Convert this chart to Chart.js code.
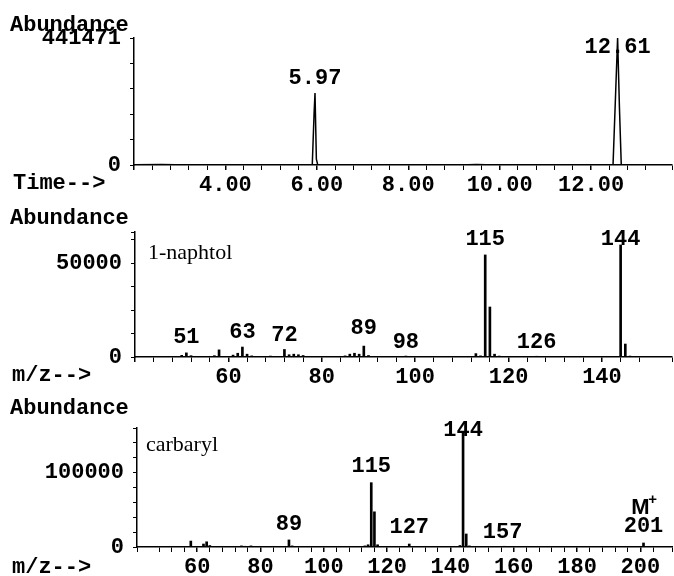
<!DOCTYPE html>
<html>
<head>
<meta charset="utf-8">
<script src="https://cdn.jsdelivr.net/npm/chart.js@4.4.1/dist/chart.umd.min.js"></script>
<style>
  body { margin: 0; background: #fff; width: 674px; height: 576px; position: relative; overflow: hidden; }
  canvas { position: absolute; left: 0; }
</style>
</head>
<body>
<canvas id="tic" width="674" height="195" style="top:0px"></canvas>
<canvas id="naphtol" width="674" height="190" style="top:195px"></canvas>
<canvas id="carbaryl" width="674" height="191" style="top:385px"></canvas>
<script>
// chromatogram (TIC)
const ticTime  = [2.0, 2.6, 2.9, 3.2, 5.90, 5.94, 5.96, 5.99, 6.02, 9.3, 9.5, 9.7, 12.48, 12.53, 12.58, 12.62, 12.66, 13.77];
const ticAbund = [600, 1500, 800, 500, 600, 180000, 250000, 20000, 600, 500, 1500, 500, 800, 220000, 441471, 200000, 800, 600];
const ticPeakTime  = [5.96, 12.58];
const ticPeakLabel = ['5.97', '12.61'];
const ticPeakLabelY = [302000, 410000];

// 1-naphtol spectrum
const naphtolMz    = [50, 51, 52, 57, 58, 61, 62, 63, 64, 65, 69, 72, 73, 74, 75, 76, 85, 86, 87, 88, 89, 90, 98, 113, 114, 115, 116, 117, 118, 126, 144, 145, 146];
const naphtolAbund = [900, 2200, 700, 700, 3800, 1000, 2000, 5300, 1500, 600, 500, 4000, 1200, 1500, 1200, 800, 600, 1500, 2000, 1500, 5800, 800, 500, 1800, 600, 54300, 26600, 1500, 500, 400, 59600, 6900, 500];
const naphtolLabelMz = [51, 63, 72, 89, 98, 115, 126, 144];
const naphtolLabelY  = [10600, 13300, 11700, 15400, 8000, 62800, 8000, 62800];

// carbaryl spectrum
const carbarylMz    = [58, 62, 63, 64, 74, 75, 77, 89, 90, 113, 114, 115, 116, 117, 127, 143, 144, 145, 146, 157, 201];
const carbarylAbund = [8000, 4000, 7000, 2000, 1500, 1000, 1500, 9500, 1500, 1500, 3000, 86500, 47300, 3000, 4000, 2000, 154000, 17500, 1500, 1000, 5400];
const carbarylLabelMz = [89, 115, 127, 144, 156.5, 201];
const carbarylLabel   = ['89', '115', '127', '144', '157', '201'];
const carbarylLabelY  = [29700, 108000, 25700, 156700, 18900, 27000];

// y tick values per panel (only some get a label)
const ticYTicks      = [0, 88294, 176588, 264883, 353177, 441471];
const ticYLabels     = [0, 441471];
const naphtolYTicks  = [0, 12500, 25000, 37500, 50000, 62500, 66500];
const naphtolYLabels = [0, 50000];
const carbarylYTicks = [0, 20000, 40000, 60000, 80000, 100000, 120000, 140000, 160000];
const carbarylYLabels = [0, 100000];

const mono = '"Liberation Mono", "DejaVu Sans Mono", monospace';
const monoFont = 'bold 22px ' + mono;
const serifFont = '22px "Liberation Serif", "DejaVu Serif", serif';

function textPlugin(fixed, peaks) {
  return {
    id: 'panelText',
    afterDraw(chart) {
      const ctx = chart.ctx, xs = chart.scales.x, ys = chart.scales.y;
      ctx.save();
      ctx.fillStyle = '#000';
      ctx.textBaseline = 'middle';
      fixed.forEach(t => {
        ctx.font = t.font || monoFont;
        ctx.textAlign = 'left';
        ctx.fillText(t.text, t.x, t.y);
      });
      ctx.font = monoFont;
      ctx.textAlign = 'center';
      peaks.forEach(p => {
        const px = xs.getPixelForValue(p.x), py = ys.getPixelForValue(p.y);
        if (p.text === 'M+') {
          ctx.font = 'bold 22px "Liberation Sans", sans-serif';
          ctx.fillText('M', px - 3, py);
          ctx.font = 'bold 15px "Liberation Sans", sans-serif';
          ctx.fillText('+', px + 9, py - 8);
          ctx.font = monoFont;
        } else {
          ctx.fillText(p.text, px, py);
        }
      });
      ctx.restore();
    }
  };
}

function isMajor(v, major) {
  return Math.abs(v / major - Math.round(v / major)) < 1e-6;
}

function xAxis(min, max, step, major, fmt, height) {
  return {
    type: 'linear', min: min, max: max, offset: false,
    border: { display: true, color: '#000', width: 1.5 },
    grid: { display: true, drawOnChartArea: false, drawTicks: true, tickLength: 5, color: '#000', offset: false,
            lineWidth: ctx => (isMajor(ctx.tick.value, major) ? 1.5 : 1) },
    ticks: {
      stepSize: step, autoSkip: false, maxRotation: 0, padding: 2, color: '#000',
      font: { family: mono, size: 22, weight: 'bold' },
      callback: v => (isMajor(v, major) && v > min + step / 2 && v < max - step / 2 ? fmt(v) : '')
    },
    afterFit: s => { s.height = height; }
  };
}

function yAxis(max, tickVals, labels, width) {
  return {
    type: 'linear', min: 0, max: max,
    border: { display: true, color: '#000', width: 1.5 },
    grid: { display: true, drawOnChartArea: false, drawTicks: true, tickLength: 4, color: '#000' },
    afterBuildTicks: s => { s.ticks = tickVals.map(v => ({ value: v })); },
    ticks: {
      autoSkip: false, padding: 9, color: '#000',
      font: { family: mono, size: 22, weight: 'bold' },
      callback: v => (labels.some(l => Math.abs(l - v) < 1) ? String(Math.round(v)) : '')
    },
    afterFit: s => { s.width = width; }
  };
}

Chart.defaults.animation = false;
Chart.defaults.responsive = false;
Chart.defaults.devicePixelRatio = 1;
Chart.defaults.plugins.legend.display = false;
Chart.defaults.plugins.tooltip.enabled = false;

new Chart(document.getElementById('tic'), {
  type: 'line',
  data: {
    datasets: [{
      data: ticTime.map((t, i) => ({ x: t, y: ticAbund[i] })),
      borderColor: '#000', borderWidth: 1.5, pointRadius: 0, tension: 0, fill: false
    }]
  },
  options: {
    layout: { padding: { top: 38, right: 2, left: 0, bottom: 0 } },
    scales: {
      x: xAxis(2.0, 13.77, 0.4, 2, v => v.toFixed(2), 30),
      y: yAxis(441471, ticYTicks, ticYLabels, 134)
    }
  },
  plugins: [textPlugin(
    [{ text: 'Abundance', x: 10, y: 25 }, { text: 'Time-->', x: 13, y: 183 }],
    ticPeakTime.map((t, i) => ({ x: t, y: ticPeakLabelY[i], text: ticPeakLabel[i] }))
  )]
});

new Chart(document.getElementById('naphtol'), {
  type: 'bar',
  data: {
    datasets: [{
      data: naphtolMz.map((m, i) => ({ x: m, y: naphtolAbund[i] })),
      backgroundColor: '#000', barThickness: 2
    }]
  },
  options: {
    layout: { padding: { top: 37, right: 2, left: 0, bottom: 0 } },
    scales: {
      x: xAxis(40, 155, 4, 20, v => String(v), 28),
      y: yAxis(66500, naphtolYTicks, naphtolYLabels, 135)
    }
  },
  plugins: [textPlugin(
    [{ text: 'Abundance', x: 10, y: 23 }, { text: 'm/z-->', x: 12, y: 180 },
     { text: '1-naphtol', x: 148, y: 58, font: serifFont }],
    naphtolLabelMz.map((m, i) => ({ x: m, y: naphtolLabelY[i], text: String(m) }))
  )]
});

new Chart(document.getElementById('carbaryl'), {
  type: 'bar',
  data: {
    datasets: [{
      data: carbarylMz.map((m, i) => ({ x: m, y: carbarylAbund[i] })),
      backgroundColor: '#000', barThickness: 2
    }]
  },
  options: {
    layout: { padding: { top: 43, right: 2, left: 0, bottom: 0 } },
    scales: {
      x: xAxis(41, 210, 4, 20, v => String(v), 29),
      y: yAxis(160000, carbarylYTicks, carbarylYLabels, 137)
    }
  },
  plugins: [textPlugin(
    [{ text: 'Abundance', x: 10, y: 23 }, { text: 'm/z-->', x: 12, y: 182 },
     { text: 'carbaryl', x: 146, y: 60, font: serifFont }],
    carbarylLabelMz.map((m, i) => ({ x: m, y: carbarylLabelY[i], text: carbarylLabel[i] }))
      .concat([{ x: 201, y: 52700, text: 'M+' }])
  )]
});
</script>
</body>
</html>
